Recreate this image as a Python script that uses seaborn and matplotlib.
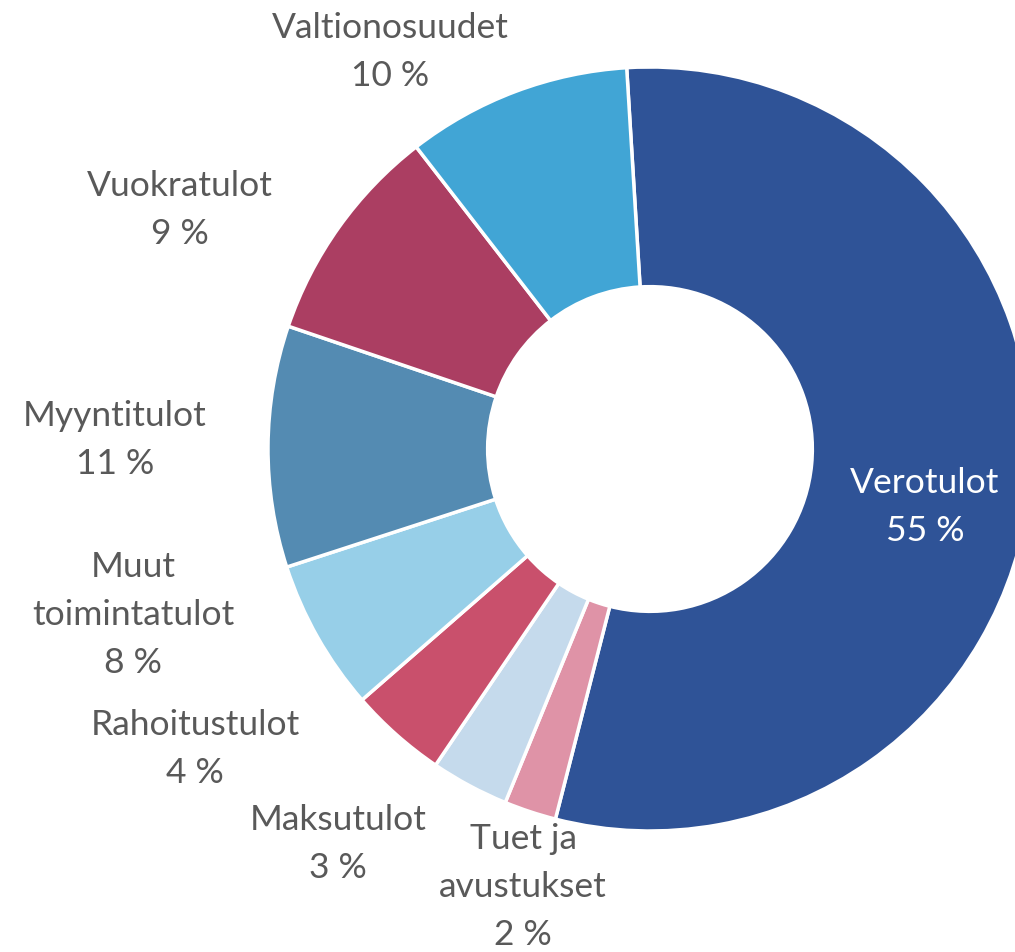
import matplotlib
matplotlib.use("Agg")
import matplotlib.pyplot as plt
import seaborn as sns

# Tulojen jakauma (osuudet luettu kuvasta, järjestys myötäpäivään ylhäältä)
categories = ["Verotulot", "Tuet ja\navustukset", "Maksutulot", "Rahoitustulot",
              "Muut\ntoimintatulot", "Myyntitulot", "Vuokratulot", "Valtionosuudet"]
shares = [54.9, 2.2, 3.3, 4.1, 6.4, 10.2, 9.3, 9.5]
pct_labels = ["55 %", "2 %", "3 %", "4 %", "8 %", "11 %", "9 %", "10 %"]
colors = ["#2F5397", "#DF93A7", "#C5DAEC", "#C9506C",
          "#97CFE8", "#548BB2", "#AB3E62", "#41A5D5"]

# label centres in pixels (x, y from top)
label_pos = [(925, 507), (523, 887), (338, 844), (195, 749),
             (133, 615), (115, 440), (180, 210), (390, 52)]

sns.set_theme(style="white")
plt.rcParams['font.family'] = ['Lato', 'DejaVu Sans']

W, H = 1015, 952
cx, cy, R = 650, 449, 382

fig = plt.figure(figsize=(W / 100, H / 100), dpi=100)
ax = fig.add_axes([0, 0, 1, 1])

ax.pie(shares, colors=colors, startangle=93.5, counterclock=False,
       radius=1.0, wedgeprops=dict(width=0.575, edgecolor="white", linewidth=2.5))

ax.set_xlim(-cx / R, (W - cx) / R)
ax.set_ylim(-(H - cy) / R, cy / R)
ax.set_aspect("auto")
ax.axis("off")

for i, (name, pct) in enumerate(zip(categories, pct_labels)):
    px, py = label_pos[i]
    col = "white" if i == 0 else "#595959"
    fig.text(px / W, 1 - py / H, name + "\n" + pct, ha="center", va="center",
             fontsize=25.5, color=col, linespacing=1.6)

fig.savefig("out.png", dpi=100)
